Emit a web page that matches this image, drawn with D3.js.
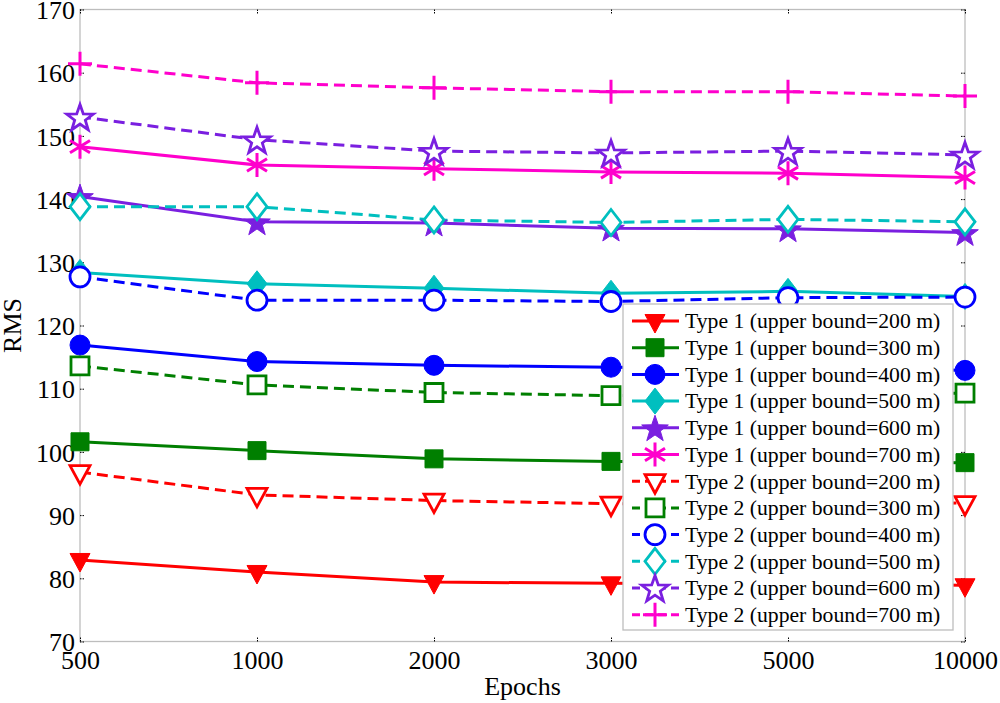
<!DOCTYPE html>
<html>
<head>
<meta charset="utf-8">
<script src="https://cdn.jsdelivr.net/npm/d3@7"></script>
<style>
  body { margin: 0; background: #fff; }
  svg { display: block; }
  svg text { font-family: "Liberation Serif", "Times New Roman", Times, "DejaVu Serif", serif; }
</style>
</head>
<body>
<script>
// Categories on the x axis (equally spaced)
const epochs = ["500", "1000", "2000", "3000", "5000", "10000"];
const yTicks = [70, 80, 90, 100, 110, 120, 130, 140, 150, 160, 170];

// RMS values
const type1_200 = [82.9, 81.0, 79.4, 79.2, 79.1, 78.9];
const type1_300 = [101.6, 100.2, 98.9, 98.5, 98.4, 98.3];
const type1_400 = [116.9, 114.3, 113.7, 113.4, 113.2, 112.9];
const type1_500 = [128.4, 126.6, 125.9, 125.1, 125.4, 124.6];
const type1_600 = [140.4, 136.4, 136.2, 135.4, 135.3, 134.7];
const type1_700 = [148.3, 145.4, 144.8, 144.3, 144.1, 143.4];
const type2_200 = [96.8, 93.2, 92.3, 91.8, 91.8, 91.9];
const type2_300 = [113.6, 110.6, 109.4, 108.9, 109.0, 109.3];
const type2_400 = [127.7, 124.0, 124.0, 123.8, 124.4, 124.5];
const type2_500 = [138.8, 138.8, 136.7, 136.3, 136.8, 136.4];
const type2_600 = [153.0, 149.4, 147.6, 147.3, 147.6, 147.0];
const type2_700 = [161.4, 158.4, 157.6, 157.0, 157.0, 156.3];

const seriesNames = [
  "Type 1 (upper bound=200 m)", "Type 1 (upper bound=300 m)", "Type 1 (upper bound=400 m)",
  "Type 1 (upper bound=500 m)", "Type 1 (upper bound=600 m)", "Type 1 (upper bound=700 m)",
  "Type 2 (upper bound=200 m)", "Type 2 (upper bound=300 m)", "Type 2 (upper bound=400 m)",
  "Type 2 (upper bound=500 m)", "Type 2 (upper bound=600 m)", "Type 2 (upper bound=700 m)"
];

const red = "#ff0000", green = "#007f00", blue = "#0000ff",
      cyan = "#00bfbf", purple = "#7a1fe0", magenta = "#ff00cc";

const series = [
  { name: seriesNames[0], values: type1_200, color: red, marker: "triDown", filled: true, dashed: false },
  { name: seriesNames[1], values: type1_300, color: green, marker: "square", filled: true, dashed: false },
  { name: seriesNames[2], values: type1_400, color: blue, marker: "circle", filled: true, dashed: false },
  { name: seriesNames[3], values: type1_500, color: cyan, marker: "diamond", filled: true, dashed: false },
  { name: seriesNames[4], values: type1_600, color: purple, marker: "star", filled: true, dashed: false },
  { name: seriesNames[5], values: type1_700, color: magenta, marker: "asterisk", filled: false, dashed: false },
  { name: seriesNames[6], values: type2_200, color: red, marker: "triDown", filled: false, dashed: true },
  { name: seriesNames[7], values: type2_300, color: green, marker: "square", filled: false, dashed: true },
  { name: seriesNames[8], values: type2_400, color: blue, marker: "circle", filled: false, dashed: true },
  { name: seriesNames[9], values: type2_500, color: cyan, marker: "diamond", filled: false, dashed: true },
  { name: seriesNames[10], values: type2_600, color: purple, marker: "star", filled: false, dashed: true },
  { name: seriesNames[11], values: type2_700, color: magenta, marker: "plus", filled: false, dashed: true }
];

const width = 1000, height = 703;
const margin = { left: 80, right: 35, top: 9.5, bottom: 61.5 };

const svg = d3.select("body").append("svg")
  .attr("width", width)
  .attr("height", height);

const x = d3.scalePoint().domain(epochs).range([margin.left, width - margin.right]);
const y = d3.scaleLinear().domain([70, 170]).range([height - margin.bottom, margin.top]);

// Marker shapes (path strings, centered on 0,0)
function markerPath(kind) {
  const p = d3.path();
  if (kind === "triDown") {
    p.moveTo(-10, -6.5); p.lineTo(10, -6.5); p.lineTo(0, 12); p.closePath();
  } else if (kind === "square") {
    p.rect(-9, -9, 18, 18);
  } else if (kind === "circle") {
    p.arc(0, 0, 10, 0, 2 * Math.PI);
  } else if (kind === "diamond") {
    p.moveTo(0, -13); p.lineTo(10, 0); p.lineTo(0, 13); p.lineTo(-10, 0); p.closePath();
  } else if (kind === "star") {
    const R = 14, r = 5.6;
    for (let i = 0; i < 10; i++) {
      const a = -Math.PI / 2 + i * Math.PI / 5;
      const rr = i % 2 === 0 ? R : r;
      const px = rr * Math.cos(a), py = rr * Math.sin(a) + 1.5;
      if (i === 0) p.moveTo(px, py); else p.lineTo(px, py);
    }
    p.closePath();
  } else if (kind === "asterisk") {
    p.moveTo(0, -12); p.lineTo(0, 12);
    p.moveTo(-10, -6.2); p.lineTo(10, 6.2);
    p.moveTo(-10, 6.2); p.lineTo(10, -6.2);
  } else if (kind === "plus") {
    p.moveTo(0, -12); p.lineTo(0, 12);
    p.moveTo(-12, 0); p.lineTo(12, 0);
  }
  return p.toString();
}

function drawMarker(g, s) {
  const strokeOnly = s.marker === "asterisk" || s.marker === "plus";
  g.append("path")
    .attr("d", markerPath(s.marker))
    .attr("fill", s.filled ? s.color : (strokeOnly ? "none" : "#fff"))
    .attr("stroke", s.color)
    .attr("stroke-width", s.filled ? 1 : (strokeOnly ? 3 : 2.8))
    .attr("stroke-linejoin", "miter");
}

// Axes box (gray) with inward black ticks on all four sides
const plotL = margin.left, plotR = width - margin.right;
const plotT = margin.top, plotB = height - margin.bottom;

svg.append("rect")
  .attr("x", plotL).attr("y", plotT)
  .attr("width", plotR - plotL).attr("height", plotB - plotT)
  .attr("fill", "none").attr("stroke", "#bdbdbd").attr("stroke-width", 1.3);

function styleAxis(g) {
  g.attr("font-family", null).attr("font-size", null);
  g.select(".domain").remove();
  g.selectAll(".tick line").attr("stroke", "#000").attr("stroke-dasharray", "1.5,1");
  g.selectAll(".tick text").attr("font-size", "26px").attr("fill", "#000");
}

svg.append("g")
  .attr("transform", `translate(${plotL},0)`)
  .call(d3.axisLeft(y).tickValues(yTicks).tickSize(-4).tickPadding(5))
  .call(styleAxis)
  .call(g => g.selectAll(".tick text").attr("dy", "0.35em"));

svg.append("g")
  .attr("transform", `translate(${plotR},0)`)
  .call(d3.axisRight(y).tickValues(yTicks).tickSize(-4).tickFormat(""))
  .call(styleAxis);

svg.append("g")
  .attr("transform", `translate(0,${plotB})`)
  .call(d3.axisBottom(x).tickSize(-4).tickPadding(8))
  .call(styleAxis)
  .call(g => g.selectAll(".tick text").attr("dy", "0.75em"));

svg.append("g")
  .attr("transform", `translate(0,${plotT})`)
  .call(d3.axisTop(x).tickSize(-4).tickFormat(""))
  .call(styleAxis);

// Axis titles
svg.append("text")
  .attr("x", (plotL + plotR) / 2)
  .attr("y", 695)
  .attr("text-anchor", "middle")
  .attr("font-size", "26px")
  .text("Epochs");

svg.append("text")
  .attr("transform", `translate(21,${(plotT + plotB) / 2}) rotate(-90)`)
  .attr("text-anchor", "middle")
  .attr("font-size", "26px")
  .text("RMS");

// Lines and markers
const line = d3.line()
  .x((d, i) => x(epochs[i]))
  .y(d => y(d));

const plot = svg.append("g");

series.forEach(s => {
  plot.append("path")
    .datum(s.values)
    .attr("fill", "none")
    .attr("stroke", s.color)
    .attr("stroke-width", 3)
    .attr("stroke-dasharray", s.dashed ? "11,6" : null)
    .attr("d", line);
});

series.forEach(s => {
  s.values.forEach((v, i) => {
    const g = plot.append("g").attr("transform", `translate(${x(epochs[i])},${y(v)})`);
    drawMarker(g, s);
  });
});

// Legend
const legX = 623, legY = 304, legW = 330, legH = 326, rowH = 26.7;
const legend = svg.append("g");
legend.append("rect")
  .attr("x", legX).attr("y", legY)
  .attr("width", legW).attr("height", legH)
  .attr("fill", "#fff").attr("stroke", "#bdbdbd").attr("stroke-width", 1.3);

series.forEach((s, i) => {
  const cy = legY + 17 + i * rowH;
  const row = legend.append("g");
  row.append("line")
    .attr("x1", legX + 9).attr("x2", legX + 56)
    .attr("y1", cy).attr("y2", cy)
    .attr("stroke", s.color).attr("stroke-width", 3)
    .attr("stroke-dasharray", s.dashed ? "8,5" : null);
  const mg = row.append("g").attr("transform", `translate(${legX + 32},${cy})`);
  drawMarker(mg, s);
  row.append("text")
    .attr("x", legX + 62)
    .attr("y", cy)
    .attr("dy", "0.34em")
    .attr("font-size", "21.7px")
    .text(s.name);
});
</script>
</body>
</html>
